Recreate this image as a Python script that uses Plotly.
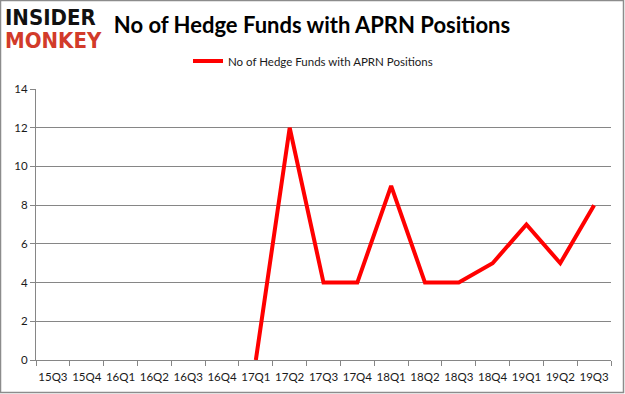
import plotly.graph_objects as go

quarters = ["15Q3", "15Q4", "16Q1", "16Q2", "16Q3", "16Q4", "17Q1", "17Q2", "17Q3",
            "17Q4", "18Q1", "18Q2", "18Q3", "18Q4", "19Q1", "19Q2", "19Q3"]
hedge_funds = [None, None, None, None, None, None, 0, 12, 4, 4, 9, 4, 4, 5, 7, 5, 8]
series_name = "No of Hedge Funds with APRN Positions"
y_ticks = [0, 2, 4, 6, 8, 10, 12, 14]

W, H = 625, 394
L, R, T, B = 36, 14, 89, 34
pw, ph = W - L - R, H - T - B

def px_x(p):
    return (p - L) / pw

def px_y(p):
    return (H - B - p) / ph

fig = go.Figure()
fig.add_trace(go.Scatter(
    x=quarters, y=hedge_funds, mode="lines", name=series_name,
    line=dict(color="#ff0000", width=4), connectgaps=False,
))

fig.update_layout(
    width=W, height=H,
    margin=dict(l=L, r=R, t=T, b=B, pad=0, autoexpand=False),
    paper_bgcolor="white", plot_bgcolor="white",
    font=dict(family="Lato, Open Sans, sans-serif", size=11, color="#1a1a1a"),
    title=dict(text="<b>No of Hedge Funds with APRN Positions</b>",
               x=312 / W, xref="container", xanchor="center",
               y=1 - 25 / H, yref="container", yanchor="middle",
               font=dict(family="Lato, Open Sans, sans-serif", size=22, color="#000000")),
    showlegend=True,
    legend=dict(orientation="h", x=px_x(313), xanchor="center", y=px_y(61), yanchor="middle",
                font=dict(size=11.5, color="#1a1a1a"), bgcolor="rgba(0,0,0,0)"),
    xaxis=dict(
        type="category", categoryorder="array", categoryarray=quarters,
        range=[-0.5, len(quarters) - 0.5],
        tickson="boundaries", ticks="outside", ticklen=5, tickcolor="#868686",
        showline=True, linecolor="#868686", linewidth=1, showgrid=False,
        tickfont=dict(size=11.5), tickangle=0, ticklabelstandoff=6,
        automargin=False, fixedrange=True,
    ),
    yaxis=dict(
        range=[0, 14], tickvals=y_ticks, ticks="outside", ticklen=5, tickcolor="#868686",
        showline=True, linecolor="#868686", linewidth=1,
        showgrid=True, gridcolor="#868686", gridwidth=1, zeroline=False,
        tickfont=dict(size=11.5), automargin=False, fixedrange=True,
    ),
)

# outer border of the picture
fig.add_shape(type="rect", xref="paper", yref="paper",
              x0=px_x(0.5), x1=px_x(W - 1.5), y0=px_y(H - 1.5), y1=px_y(0.5),
              line=dict(color="#8c8c8c", width=1.5), fillcolor="rgba(0,0,0,0)", layer="below")

# logo
fig.add_annotation(
    text="<b><span style='font-size:22px'>INSIDER</span></b><br>"
         "<b><span style='font-size:22px;color:#d23b2a'>MONKEY</span></b>",
    xref="paper", yref="paper", align="left",
    x=px_x(3), y=px_y(29), xanchor="left", yanchor="middle", showarrow=False,
    font=dict(family="DejaVu Sans Condensed, DejaVu Sans", size=18, color="#111111"))

fig.write_html("out.html", config={"displayModeBar": False},
               post_script="document.body.style.margin='0';")
